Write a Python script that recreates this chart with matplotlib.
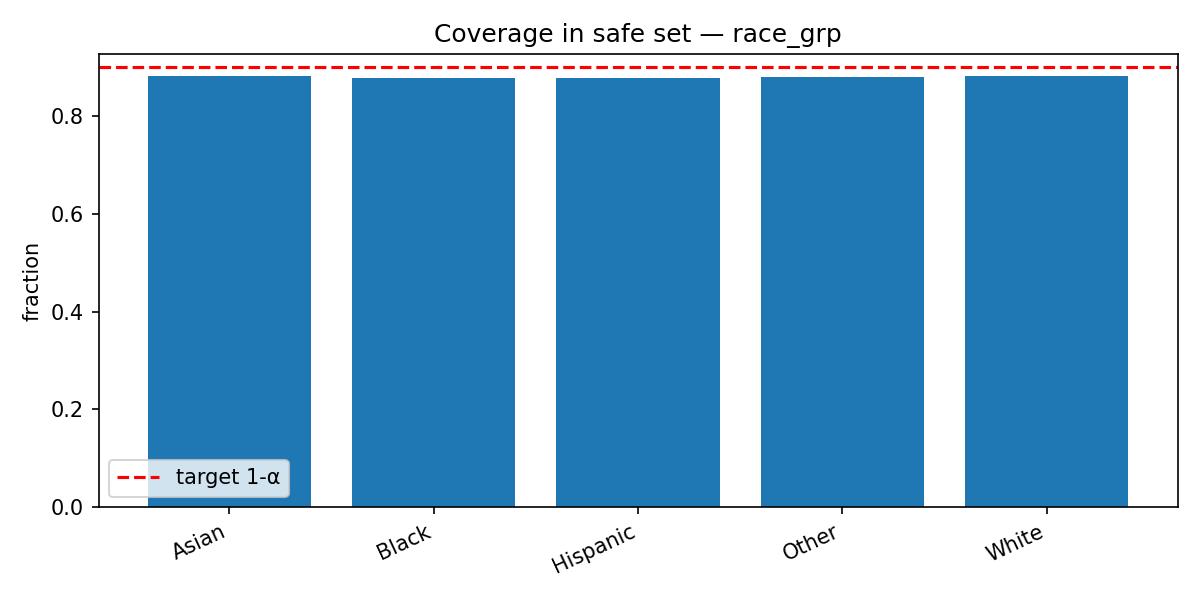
import matplotlib
matplotlib.use("Agg")
import matplotlib.pyplot as plt

groups = ["Asian", "Black", "Hispanic", "Other", "White"]
coverage = [0.882, 0.878, 0.878, 0.880, 0.882]
target = 0.9

fig, ax = plt.subplots(figsize=(8, 4), dpi=150)
ax.bar(groups, coverage, color="#1f77b4")
ax.axhline(target, color="red", linestyle="--", label="target 1-α")
ax.set_ylim(0, 0.927)
ax.set_ylabel("fraction")
ax.set_title("Coverage in safe set — race_grp")
ax.legend(loc="lower left")
plt.setp(ax.get_xticklabels(), rotation=25, ha="right")
fig.tight_layout()
fig.savefig("out.png")
